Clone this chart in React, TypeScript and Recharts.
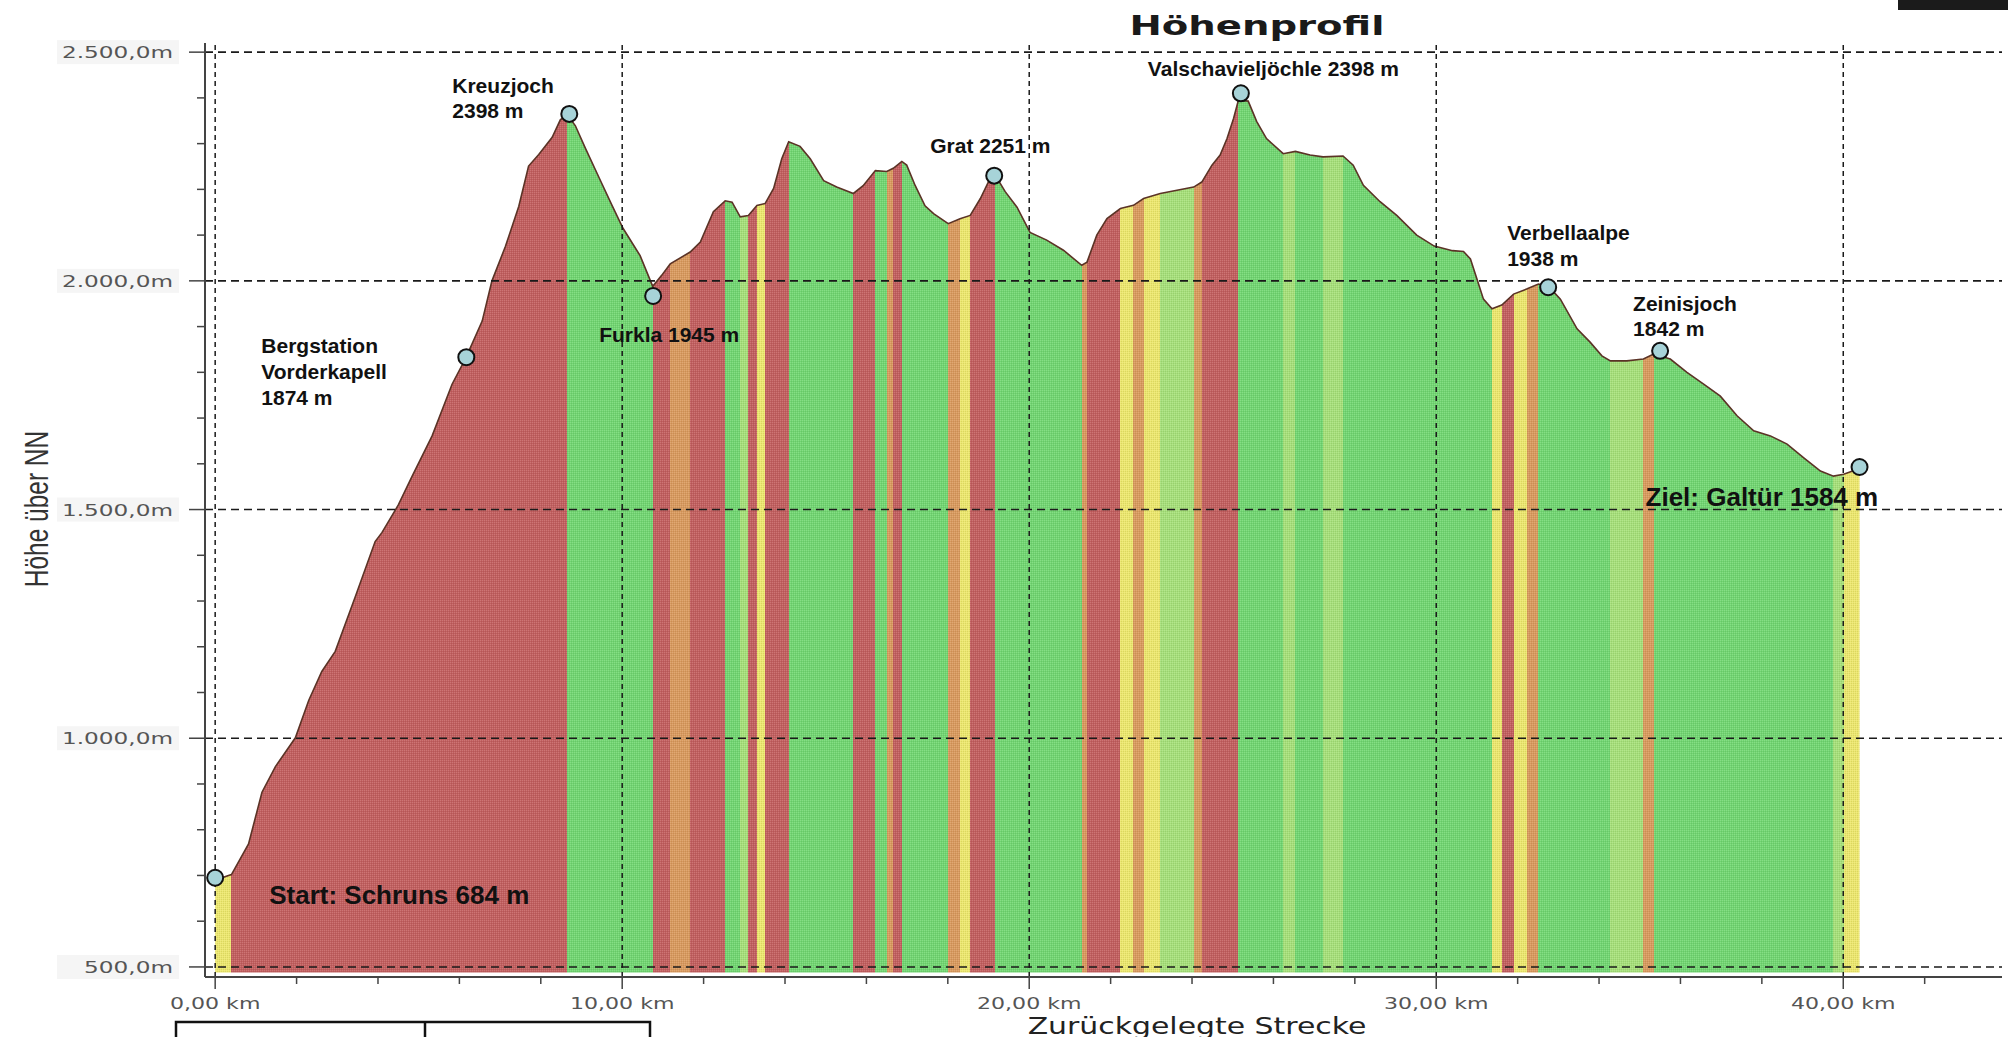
import React from 'react';
import { ComposedChart, Area, XAxis, YAxis, ReferenceLine, ReferenceDot } from 'recharts';

// Höhenprofil Schruns -> Galtür
const distanceKm = [
  0, 0.4, 0.82, 1.15, 1.48, 1.97, 2.3, 2.62, 2.95, 3.44, 3.93, 4.1, 4.5, 4.84, 5.33, 5.82, 6.15, 6.56, 6.8,
  7.13, 7.46, 7.7, 7.95, 8.28, 8.48, 8.65, 8.85, 9.1, 9.43, 9.75, 10.02, 10.44, 10.75, 10.97, 11.18, 11.67,
  11.92, 12.24, 12.53, 12.7, 12.9, 13.1, 13.31, 13.51, 13.72, 13.92, 14.09, 14.37, 14.62, 14.95, 15.27, 15.68,
  15.92, 16.22, 16.5, 16.66, 16.87, 16.99, 17.2, 17.44, 17.65, 18.01, 18.3, 18.55, 18.8, 19.0, 19.16, 19.41,
  19.7, 20.02, 20.43, 20.84, 21.29, 21.42, 21.66, 21.91, 22.24, 22.56, 22.81, 23.22, 23.63, 24.04, 24.24,
  24.49, 24.69, 24.86, 25.02, 25.14, 25.38, 25.59, 25.83, 26.24, 26.54, 26.9, 27.22, 27.71, 27.96, 28.21,
  28.62, 29.03, 29.52, 29.95, 30.4, 30.67, 30.84, 31.0, 31.16, 31.37, 31.61, 31.9, 32.22, 32.51, 32.76, 33.05,
  33.46, 33.78, 34.07, 34.28, 34.68, 35.09, 35.34, 35.75, 36.16, 36.57, 36.98, 37.39, 37.8, 38.21, 38.62,
  39.03, 39.44, 39.76, 40.01, 40.4,
];
const elevationM = [
  690, 702, 769, 882, 938, 1001, 1083, 1146, 1190, 1309, 1430, 1450, 1510, 1573, 1661, 1774, 1830, 1912, 2000,
  2075, 2163, 2251, 2276, 2314, 2352, 2364, 2339, 2289, 2226, 2165, 2115, 2055, 1988, 2012, 2037, 2063,
  2085, 2151, 2175, 2172, 2140, 2143, 2165, 2169, 2202, 2267, 2304, 2294, 2267, 2219, 2205, 2191,
  2208, 2241, 2239, 2246, 2261, 2253, 2208, 2164, 2147, 2125, 2136, 2143, 2180, 2217, 2232, 2195,
  2161, 2106, 2089, 2067, 2034, 2041, 2100, 2136, 2158, 2165, 2180, 2191, 2198, 2205, 2216,
  2253, 2275, 2311, 2355, 2395, 2393, 2348, 2311, 2278, 2283, 2275, 2271, 2273, 2253, 2209,
  2173, 2143, 2100, 2076, 2066, 2064, 2048, 2004, 1960, 1939, 1947, 1971, 1982, 1993, 1988, 1960,
  1895, 1866, 1836, 1825, 1825, 1829, 1840, 1829, 1800, 1774, 1748, 1705, 1672, 1661, 1643,
  1613, 1584, 1573, 1577, 1590,
];

const waypointNames = ['Start', 'Bergstation', 'Kreuzjoch', 'Furkla', 'Grat', 'Valschavieljöchle', 'Verbellaalpe', 'Zeinisjoch', 'Ziel'];
const waypointKm = [0, 6.17, 8.7, 10.76, 19.14, 25.2, 32.75, 35.5, 40.4];
const waypointEle = [695, 1833, 2365, 1967, 2230, 2410, 1986, 1847, 1593];
const waypointLabels = [
  ['Start: Schruns 684 m'],
  ['Bergstation', 'Vorderkapell', '1874 m'],
  ['Kreuzjoch', '2398 m'],
  ['Furkla 1945 m'],
  ['Grat 2251 m'],
  ['Valschavieljöchle 2398 m'],
  ['Verbellaalpe', '1938 m'],
  ['Zeinisjoch', '1842 m'],
  ['Ziel: Galtür 1584 m'],
];

const elevationTicks = [500, 600, 700, 800, 900, 1000, 1100, 1200, 1300, 1400, 1500, 1600, 1700, 1800, 1900, 2000, 2100, 2200, 2300, 2400, 2500];
const distanceTicks = [0, 2, 4, 6, 8, 10, 12, 14, 16, 18, 20, 22, 24, 26, 28, 30, 32, 34, 36, 38, 40, 42];
const gridElevations = [500, 1000, 1500, 2000, 2500];
const gridDistances = [0, 10, 20, 30, 40];

// label placement relative to the marker (px), kept apart from the data
const labelLayout: Record<string, { dx: number; dy: number; size: number; lh?: number }> = {
  Start: { dx: 54, dy: 26, size: 26 },
  Bergstation: { dx: -205, dy: -4, size: 21, lh: 26 },
  Kreuzjoch: { dx: -117, dy: -21, size: 21, lh: 25 },
  Furkla: { dx: -54, dy: 46, size: 21 },
  Grat: { dx: -64, dy: -23, size: 21 },
  Valschavieljöchle: { dx: -93, dy: -17, size: 21 },
  Verbellaalpe: { dx: -41, dy: -47, size: 21, lh: 26 },
  Zeinisjoch: { dx: -27, dy: -40, size: 21, lh: 25 },
  Ziel: { dx: -214, dy: 39, size: 26 },
};

const RED = '#c25f5f';
const ORANGE = '#d99a5e';
const YELLOW = '#ece76e';
const LIGHTGREEN = '#a6e07a';
const GREEN = '#72d672';

// steep climbs red, gentle climbs yellow, flat and downhill green
const gradeColor = (g: number) =>
  g >= 6.5 ? RED : g >= 3.5 ? ORANGE : g >= 2 ? YELLOW : g > -0.5 ? LIGHTGREEN : GREEN;

const profile = distanceKm.map((km, i) => ({ km, ele: elevationM[i] }));

const kmSpan = distanceKm[distanceKm.length - 1] - distanceKm[0];
const slopeStops: { offset: number; color: string }[] = [];
for (let i = 0; i < distanceKm.length - 1; i++) {
  const grade = (elevationM[i + 1] - elevationM[i]) / ((distanceKm[i + 1] - distanceKm[i]) * 10);
  const c = gradeColor(grade);
  slopeStops.push({ offset: (distanceKm[i] - distanceKm[0]) / kmSpan, color: c });
  slopeStops.push({ offset: (distanceKm[i + 1] - distanceKm[0]) / kmSpan, color: c });
}

const fmtElevation = (v: number) =>
  v >= 1000 ? `${Math.floor(v / 1000)}.${String(v % 1000).padStart(3, '0')},0m` : `${v},0m`;

const ElevationTick = (props: any) => {
  const { x, y, payload } = props;
  const v = payload.value;
  const major = v % 500 === 0;
  return (
    <g>
      <line x1={x - (major ? 16 : 8)} y1={y} x2={x} y2={y} stroke="#444" strokeWidth={1.5} />
      {major && (
        <>
          <rect x={x - 148} y={y - 12} width={122} height={24} fill="#f5f5f5" />
          <text
            transform={`translate(${x - 32},${y + 6}) scale(1.45,1)`}
            textAnchor="end"
            fontFamily="DejaVu Sans"
            fontSize={16}
            fill="#555"
          >
            {fmtElevation(v)}
          </text>
        </>
      )}
    </g>
  );
};

const DistanceTick = (props: any) => {
  const { x, y, payload } = props;
  const v = payload.value;
  const major = v % 10 === 0;
  return (
    <g>
      <line x1={x} y1={y} x2={x} y2={y + (major ? 12 : 7)} stroke="#444" strokeWidth={1.5} />
      {major && (
        <text
          transform={`translate(${x},${y + 32}) scale(1.38,1)`}
          textAnchor="middle"
          fontFamily="DejaVu Sans"
          fontSize={16}
          fill="#555"
        >
          {`${v},00 km`}
        </text>
      )}
    </g>
  );
};

const renderWaypoint = (p: any, name: string, lines: string[]) => {
  const lay = labelLayout[name];
  const lh = lay.lh ?? 25;
  return (
    <g>
      <circle cx={p.cx} cy={p.cy} r={8} fill="#a7d3d8" stroke="#111" strokeWidth={2} />
      <text
        x={p.cx + lay.dx}
        y={p.cy + lay.dy}
        fontFamily="Liberation Sans, Arial, sans-serif"
        fontWeight="bold"
        fontSize={lay.size}
        fill="#111"
      >
        {lines.map((t, i) => (
          <tspan key={i} x={p.cx + lay.dx} dy={i === 0 ? 0 : lh}>
            {t}
          </tspan>
        ))}
      </text>
    </g>
  );
};

export default function App() {
  return (
    <div style={{ position: 'absolute', left: 0, top: 0, width: 2008, height: 1037, background: '#fff', overflow: 'hidden' }}>
      <ComposedChart width={2008} height={1037} data={profile} margin={{ top: 43, right: 6, bottom: 20, left: 0 }}>
        <defs>
          <linearGradient id="slope" x1="0" y1="0" x2="1" y2="0">
            {slopeStops.map((s, i) => (
              <stop key={i} offset={s.offset} stopColor={s.color} />
            ))}
          </linearGradient>
          <pattern id="dither" width="2" height="2" patternUnits="userSpaceOnUse">
            <rect x="0" y="0" width="1" height="1" fill="#fff" fillOpacity={0.14} />
            <rect x="1" y="1" width="1" height="1" fill="#000" fillOpacity={0.08} />
          </pattern>
        </defs>
        <XAxis
          type="number"
          dataKey="km"
          domain={[-0.25, 43.9]}
          allowDataOverflow
          ticks={distanceTicks}
          interval={0}
          height={40}
          tickSize={0}
          tickMargin={0}
          tickLine={false}
          axisLine={{ stroke: '#444', strokeWidth: 2 }}
          tick={<DistanceTick />}
        />
        <YAxis
          type="number"
          domain={[478, 2520]}
          allowDataOverflow
          ticks={elevationTicks}
          interval={0}
          width={205}
          tickSize={0}
          tickMargin={0}
          tickLine={false}
          axisLine={{ stroke: '#444', strokeWidth: 2 }}
          tick={<ElevationTick />}
        />
        <Area
          type="linear"
          dataKey="ele"
          baseValue={488}
          stroke="none"
          fill="url(#slope)"
          fillOpacity={1}
          isAnimationActive={false}
          dot={false}
          activeDot={false}
        />
        <Area
          type="linear"
          dataKey="ele"
          baseValue={488}
          stroke="#5b3326"
          strokeWidth={1.6}
          fill="url(#dither)"
          fillOpacity={1}
          isAnimationActive={false}
          dot={false}
          activeDot={false}
        />
        {gridElevations.map((v) => (
          <ReferenceLine key={`h${v}`} y={v} stroke="#1a1a1a" strokeWidth={1.6} strokeDasharray="8 5" />
        ))}
        {gridDistances.map((v) => (
          <ReferenceLine key={`v${v}`} x={v} stroke="#1a1a1a" strokeWidth={1.5} strokeDasharray="5 4" />
        ))}
        {waypointNames.map((name, i) => (
          <ReferenceDot
            key={name}
            x={waypointKm[i]}
            y={waypointEle[i]}
            r={8}
            shape={(p: any) => renderWaypoint(p, name, waypointLabels[i])}
          />
        ))}
      </ComposedChart>
      <svg width={2008} height={1037} style={{ position: 'absolute', left: 0, top: 0, pointerEvents: 'none' }}>
        <text
          transform="translate(1257,35) scale(1.43,1)"
          textAnchor="middle"
          fontFamily="DejaVu Sans"
          fontWeight="bold"
          fontSize={27}
          fill="#1a1a1a"
        >
          Höhenprofil
        </text>
        <rect x={1898} y={0} width={110} height={10} fill="#1b1b1b" />
        <text
          transform="translate(48,509) rotate(-90) scale(0.72,1)"
          textAnchor="middle"
          fontFamily="Liberation Sans, Arial, sans-serif"
          fontSize={34}
          fill="#333"
        >
          Höhe über NN
        </text>
        <text
          transform="translate(1197,1034) scale(1.3,1)"
          textAnchor="middle"
          fontFamily="DejaVu Sans"
          fontSize={23}
          fill="#222"
        >
          Zurückgelegte Strecke
        </text>
        <rect x={176} y={1022} width={474} height={30} fill="none" stroke="#111" strokeWidth={2.5} />
        <line x1={425} y1={1022} x2={425} y2={1037} stroke="#111" strokeWidth={2.5} />
      </svg>
    </div>
  );
}
